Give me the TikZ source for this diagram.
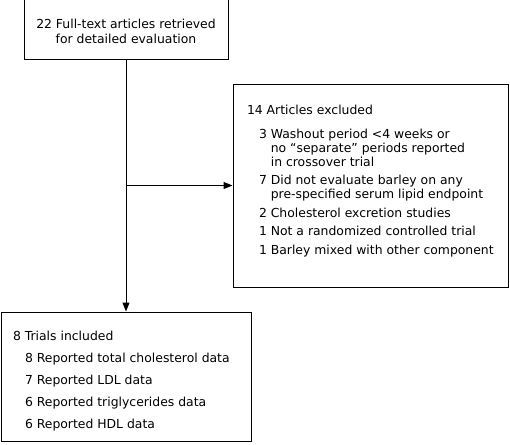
\documentclass[tikz,border=0pt]{standalone}
\usepackage{fontspec}
\setmainfont{DejaVu Sans}
\usetikzlibrary{positioning, arrows.meta}

\begin{document}
\begin{tikzpicture}[x=1pt, y=-1pt, line width=1pt, >={Triangle[length=9pt, width=7pt]}, font=\fontsize{12.4}{14}\selectfont, text=black]
        \useasboundingbox (0,0) rectangle (510,444);

        % Cajas
        \node[draw, rectangle, minimum width=204pt, minimum height=59pt, inner sep=0pt] (full) at (126,29.5) {};
        \node[draw, rectangle, minimum width=275pt, minimum height=203pt, inner sep=0pt] (excl) at (370.5,185.5) {};
        \node[draw, rectangle, minimum width=250pt, minimum height=129pt, inner sep=0pt] (incl) at (126,376.5) {};

        % Textos de las cajas
        \node[below=2pt of full.center, anchor=center, inner sep=0pt, align=center, font=\fontsize{12.4}{15}\selectfont] (fulltxt) {22 Full-text articles retrieved\\for detailed evaluation};
        \node[below right=21pt and 14pt of excl.north west, inner sep=0pt, align=left] (excltxt) {14 Articles excluded\\[10pt]
            \hspace*{12pt}3 Washout period <4 weeks or\\
            \hspace*{12pt}\phantom{3 }no “separate” periods reported\\
            \hspace*{12pt}\phantom{3 }in crossover trial\\[4.5pt]
            \hspace*{12pt}7 Did not evaluate barley on any\\
            \hspace*{12pt}\phantom{7 }pre-specified serum lipid endpoint\\[4.5pt]
            \hspace*{12pt}2 Cholesterol excretion studies\\[4.5pt]
            \hspace*{12pt}1 Not a randomized controlled trial\\[4.5pt]
            \hspace*{12pt}1 Barley mixed with other component};
        \node[below right=19pt and 12pt of incl.north west, inner sep=0pt, align=left] (incltxt) {8 Trials included\\[8pt]
            \hspace*{12pt}8 Reported total cholesterol data\\[8pt]
            \hspace*{12pt}7 Reported LDL data\\[8pt]
            \hspace*{12pt}6 Reported triglycerides data\\[8pt]
            \hspace*{12pt}6 Reported HDL data};

        % Conexiones
        \draw[->] (full.south) -- (incl.north);
        \draw[->] (full.south |- excl.west) -- (excl.west);
    \end{tikzpicture}
\end{document}
